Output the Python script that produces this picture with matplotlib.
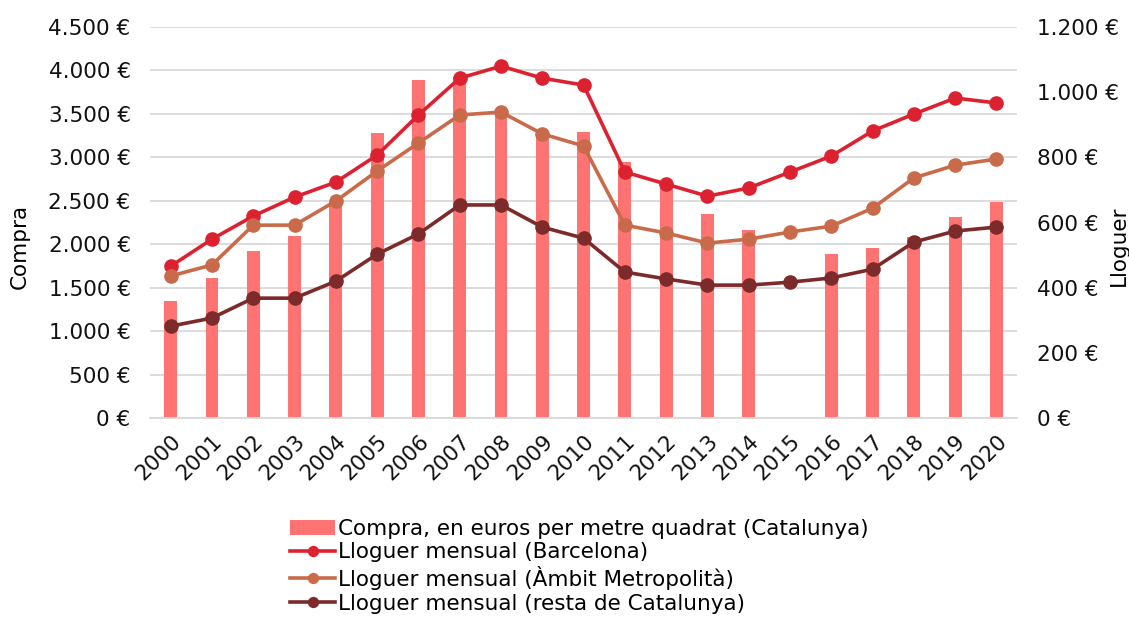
import matplotlib.pyplot as plt
import numpy as np
from matplotlib.ticker import FuncFormatter

years = [str(y) for y in range(2000, 2021)]

# Compra (EUR/m2, Catalunya) - 2015 has no bar
compra = [1350, 1610, 1920, 2100, 2490, 3280, 3890, 3920, 3530, 3280, 3290,
          2950, 2690, 2350, 2160, 0, 1890, 1960, 2080, 2310, 2490]

# Lloguer mensual
barcelona = [466, 549, 620, 678, 724, 807, 930, 1043, 1080, 1043, 1022,
             755, 718, 681, 706, 755, 804, 881, 933, 982, 967]
metropolita = [436, 470, 592, 592, 666, 758, 844, 930, 939, 872, 835,
               592, 568, 537, 549, 571, 589, 644, 737, 776, 795]
resta = [282, 307, 368, 368, 420, 503, 565, 654, 654, 586, 552,
         448, 427, 408, 408, 417, 430, 457, 540, 574, 586]

plt.rcParams['font.family'] = ['DejaVu Sans']
fs = 15.5

def euro(v, pos):
    return f"{int(v):,} €".replace(",", ".")

fig = plt.figure(figsize=(11.29, 6.24), dpi=100)
ax = fig.add_axes([0.1329, 0.330, 0.768, 0.6267])
ax2 = ax.twinx()

x = np.arange(len(years))
ax.bar(x, compra, width=0.31, color='#ff7373', zorder=2,
       label='Compra, en euros per metre quadrat (Catalunya)')
ax.set_ylim(0, 4500)
ax.set_yticks(np.arange(0, 4501, 500))
ax.yaxis.set_major_formatter(FuncFormatter(euro))
ax.set_xlim(-0.5, len(years) - 0.5)
ax.set_xticks(x)
ax.set_xticklabels(years, rotation=45, ha='right', rotation_mode='anchor')
ax.grid(axis='y', color='#d9d9d9', linewidth=1.3, zorder=0)
ax.set_axisbelow(True)
ax.set_ylabel('Compra', fontsize=fs, va='center')
ax.yaxis.set_label_coords(-0.15, 0.44)

line_kw = dict(linewidth=2.6, marker='o', markersize=9.5)
ax2.plot(x, barcelona, color='#dc2230', label='Lloguer mensual (Barcelona)', **line_kw)
ax2.plot(x, metropolita, color='#c96b4b', label='Lloguer mensual (Àmbit Metropolità)', **line_kw)
ax2.plot(x, resta, color='#7d2a2a', label='Lloguer mensual (resta de Catalunya)', **line_kw)
ax2.set_ylim(0, 1200)
ax2.set_yticks(np.arange(0, 1201, 200))
ax2.yaxis.set_major_formatter(FuncFormatter(euro))
ax2.set_ylabel('Lloguer', fontsize=fs, va='center')
ax2.yaxis.set_label_coords(1.117, 0.44)

for a in (ax, ax2):
    for s in a.spines.values():
        s.set_visible(False)
    a.tick_params(length=0, labelsize=fs, colors='#111111')
ax.spines['bottom'].set_visible(True)
ax.spines['bottom'].set_color('#d9d9d9')
ax.spines['bottom'].set_linewidth(1.3)
ax.tick_params(axis='x', pad=9)
ax.tick_params(axis='y', pad=14)
ax2.tick_params(axis='y', pad=14)

h1, l1 = ax.get_legend_handles_labels()
h2, l2 = ax2.get_legend_handles_labels()
fig.legend(h1 + h2, l1 + l2, loc='upper center', bbox_to_anchor=(0.513, 0.186),
           frameon=False, fontsize=fs, handlelength=2.1, handletextpad=0.1,
           labelspacing=0.17, borderpad=0, markerscale=0.75)

fig.savefig('out.png', dpi=100)
